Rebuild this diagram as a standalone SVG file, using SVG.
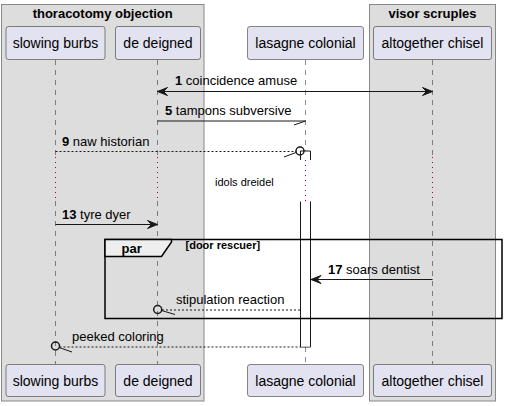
<svg xmlns="http://www.w3.org/2000/svg" width="506" height="406" viewBox="0 0 506 406">
<style>
text{font-family:"Liberation Sans",Arial,sans-serif;fill:#000}
.box{fill:#DDDDDD;stroke:#888888;stroke-width:1}
.btitle{font-size:13px;font-weight:bold;text-anchor:middle}
.part rect{fill:#E2E2F0;stroke:#181818;stroke-width:0.5}
.part text{font-size:14px;text-anchor:middle}
.life{stroke:#181818;stroke-width:0.5;stroke-dasharray:5,5;fill:none}
.delay{stroke:#A80036;stroke-width:1;stroke-dasharray:1,4;fill:none}
.msg{stroke:#181818;stroke-width:1;fill:none}
.ret{stroke:#181818;stroke-width:1;fill:none;stroke-dasharray:2,2}
.head{fill:#181818;stroke:#181818;stroke-width:1}
.mt{font-size:13px}
.act{fill:#FFFFFF;stroke:#181818;stroke-width:1}
</style>
<g id="box-thoracotomy">
<rect class="box" x="1.5" y="4.5" width="202.5" height="396.5"/>
<text class="btitle" x="102.7" y="17.5">thoracotomy objection</text>
</g>
<g id="box-visor">
<rect class="box" x="369.5" y="4.5" width="126" height="396.5"/>
<text class="btitle" x="432.5" y="17.5">visor scruples</text>
</g>
<g id="lifelines">
<path class="life" d="M55.5,60 V157 M55.5,201 V364"/>
<path class="life" d="M157.5,60 V157 M157.5,201 V364"/>
<path class="life" d="M305.5,60 V151 M305.5,347 V364"/>
<path class="life" d="M432.5,60 V157 M432.5,201 V364"/>
<path class="delay" d="M55.5,157 V201 M157.5,157 V201 M305.5,160 V201 M432.5,157 V201"/>
</g>
<g id="activation">
<path class="act" d="M300.5,160 V151 H310.5 V160"/>
<path class="act" d="M300.5,347 V201.5 M310.5,201.5 V347 H300.5" style="fill:none"/>
<rect x="301" y="201.5" width="9" height="145" fill="#FFFFFF"/>
</g>
<g id="delay-label">
<text x="215" y="185.5" font-size="11px">idols dreidel</text>
</g>
<g id="par-frame">
<rect x="105" y="239.5" width="397" height="79" fill="none" stroke="#000" stroke-width="1.5"/>
<path d="M105,239.5 H171.5 V242 L161.5,256.5 H105 Z" fill="#EEEEEE" stroke="#000" stroke-width="1.5"/>
<text x="121.5" y="253" font-size="13px" font-weight="bold">par</text>
<text x="185.5" y="249" font-size="11px" font-weight="bold">[door rescuer]</text>
</g>
<g id="connectors">
<line class="msg" x1="157.5" y1="91.5" x2="432.5" y2="91.5"/>
<polygon class="head" points="167.5,87.5 157.5,91.5 167.5,95.5 163.5,91.5"/>
<polygon class="head" points="422.5,87.5 432.5,91.5 422.5,95.5 426.5,91.5"/>
<text class="mt" x="175" y="85"><tspan font-weight="bold">1</tspan> coincidence amuse</text>

<path class="msg" d="M157.5,121 H305.5 L294,125"/>
<text class="mt" x="165" y="115"><tspan font-weight="bold">5</tspan> tampons subversive</text>

<line class="ret" x1="55.5" y1="151.5" x2="296" y2="151.5"/>
<circle cx="300" cy="151" r="4" fill="none" stroke="#181818" stroke-width="1.5"/>
<line class="msg" x1="296" y1="152.5" x2="284" y2="157"/>
<text class="mt" x="62" y="145.5"><tspan font-weight="bold">9</tspan> naw historian</text>

<line class="msg" x1="55.5" y1="224.5" x2="157.5" y2="224.5"/>
<polygon class="head" points="147.5,220.5 157.5,224.5 147.5,228.5 151.5,224.5"/>
<text class="mt" x="62" y="218.5"><tspan font-weight="bold">13</tspan> tyre dyer</text>

<line class="msg" x1="311" y1="279.5" x2="432.5" y2="279.5"/>
<polygon class="head" points="321,275.5 311,279.5 321,283.5 317,279.5"/>
<text class="mt" x="328" y="273.5"><tspan font-weight="bold">17</tspan> soars dentist</text>

<line class="ret" x1="162" y1="310" x2="300.5" y2="310"/>
<circle cx="157.7" cy="309.5" r="4" fill="none" stroke="#181818" stroke-width="1.5"/>
<line class="msg" x1="161.5" y1="310.5" x2="175" y2="314.5"/>
<text class="mt" x="176" y="304">stipulation reaction</text>

<line class="ret" x1="59.5" y1="347" x2="300.5" y2="347"/>
<circle cx="55.5" cy="346" r="4" fill="none" stroke="#181818" stroke-width="1.5"/>
<line class="msg" x1="59" y1="347.5" x2="72" y2="352"/>
<text class="mt" x="72" y="341">peeked coloring</text>
</g>
<g id="p-slowing-top" class="part"><rect x="6" y="26.5" width="99" height="33" rx="2.5"/><text x="55.5" y="48.3">slowing burbs</text></g>
<g id="p-deigned-top" class="part"><rect x="115.5" y="26.5" width="85" height="33" rx="2.5"/><text x="158" y="48.3">de deigned</text></g>
<g id="p-lasagne-top" class="part"><rect x="247.5" y="26.5" width="116" height="33" rx="2.5"/><text x="305.5" y="48.3">lasagne colonial</text></g>
<g id="p-altogether-top" class="part"><rect x="373.5" y="26.5" width="118" height="33" rx="2.5"/><text x="432.5" y="48.3">altogether chisel</text></g>
<g id="p-slowing-bottom" class="part"><rect x="6" y="364.5" width="99" height="32" rx="2.5"/><text x="55.5" y="385.8">slowing burbs</text></g>
<g id="p-deigned-bottom" class="part"><rect x="115.5" y="364.5" width="85" height="32" rx="2.5"/><text x="158" y="385.8">de deigned</text></g>
<g id="p-lasagne-bottom" class="part"><rect x="247.5" y="364.5" width="116" height="32" rx="2.5"/><text x="305.5" y="385.8">lasagne colonial</text></g>
<g id="p-altogether-bottom" class="part"><rect x="373.5" y="364.5" width="118" height="32" rx="2.5"/><text x="432.5" y="385.8">altogether chisel</text></g>
</svg>
